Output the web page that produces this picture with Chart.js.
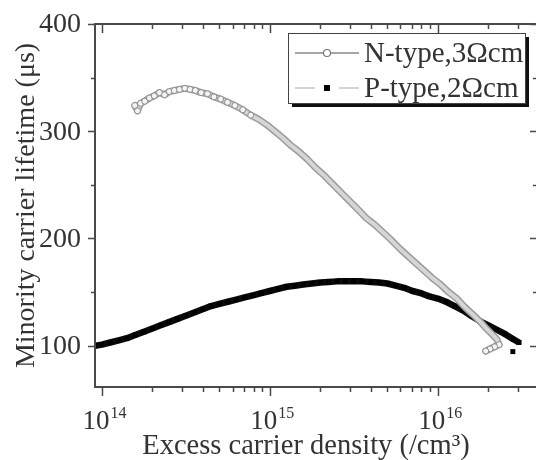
<!DOCTYPE html>
<html>
<head>
<meta charset="utf-8">
<script src="https://cdn.jsdelivr.net/npm/chart.js@4/dist/chart.umd.min.js"></script>
<style>
html, body { margin: 0; padding: 0; background: #fff; overflow: hidden; }
#wrap { width: 542px; height: 460px; }
</style>
</head>
<body>
<div id="wrap"><canvas id="lifetime" width="542" height="460"></canvas></div>
<script>
// excess carrier density (/cm3) and lifetime (us)
const nDensity = [1.57e14, 1.63e14, 1.70e14, 1.80e14, 1.92e14, 2.05e14, 2.20e14, 2.36e14, 2.52e14, 2.70e14,
    2.90e14, 3.12e14, 3.35e14, 3.60e14, 3.90e14, 4.25e14, 4.65e14, 5.10e14, 5.60e14, 6.20e14,
    6.90e14, 7.70e14, 8.60e14, 9.60e14,
    1.07e15, 1.19e15, 1.33e15, 1.49e15, 1.67e15, 1.87e15, 2.10e15, 2.36e15, 2.65e15, 2.98e15,
    3.35e15, 3.75e15, 4.20e15, 4.70e15, 5.25e15, 5.90e15, 6.60e15, 7.40e15, 8.30e15, 9.30e15,
    1.04e16, 1.16e16, 1.30e16, 1.45e16, 1.62e16, 1.80e16, 1.95e16, 2.10e16, 2.25e16, 2.32e16,
    2.18e16, 2.05e16, 1.93e16];
const nLifetime = [324, 319, 326, 328, 331, 333, 336, 334, 337, 338,
    339, 340, 339, 338, 336, 335, 332, 330, 327, 324,
    320, 315, 311, 306,
    300, 294, 287, 281, 274, 266, 259, 251, 243, 235,
    227, 219, 213, 206, 199, 191, 184, 177, 170, 163,
    157, 150, 144, 136, 129, 122, 116, 111, 106, 101,
    99, 97, 95];

const pDensity = [9.1e13, 1.0e14, 1.12e14, 1.26e14, 1.41e14, 1.58e14, 1.78e14, 2.0e14, 2.24e14, 2.51e14,
    2.82e14, 3.16e14, 3.55e14, 3.98e14, 4.47e14, 5.01e14, 5.62e14, 6.31e14, 7.08e14, 7.94e14,
    8.91e14, 1.0e15, 1.12e15, 1.26e15, 1.41e15, 1.58e15, 1.78e15, 2.0e15, 2.24e15, 2.51e15,
    2.82e15, 3.16e15, 3.55e15, 3.98e15, 4.47e15, 5.01e15, 5.62e15, 6.31e15, 7.08e15, 7.94e15,
    8.91e15, 1.0e16, 1.12e16, 1.26e16, 1.41e16, 1.58e16, 1.78e16, 2.0e16, 2.24e16, 2.51e16,
    2.82e16, 3.05e16, 2.9e16, 2.8e16];
const pLifetime = [100, 101, 103, 105, 107, 110, 113, 116, 119, 122,
    125, 128, 131, 134, 137, 139, 141, 143, 145, 147,
    149, 151, 153, 155, 156, 157, 158, 159, 159.5, 160,
    160, 160, 160, 159.5, 159, 158, 156, 154, 151, 149,
    146, 144, 141, 137, 133, 128, 123, 119, 115, 111,
    106, 103, null, 94.5];

const seriesLabels = ['N-type,3\u03A9cm', 'P-type,2\u03A9cm'];
const yTickValues = [100, 200, 300, 400];
const yMinorValues = [150, 250, 350];
const xMajorValues = [1e14, 1e15, 1e16];
const xMinorValues = [2e14, 3e14, 4e14, 5e14, 6e14, 7e14, 8e14, 9e14,
    2e15, 3e15, 4e15, 5e15, 6e15, 7e15, 8e15, 9e15, 2e16, 3e16];

const serif = "'Liberation Serif', 'Times New Roman', serif";
const ink = '#333';

function toPoints(xs, ys) {
    return xs.map(function(v, i) { return {x: v, y: ys[i]}; });
}

// open markers only where the measured points are still apart
function nMarkerRadius(c) {
    const i = c.dataIndex;
    return (i < 22 || i >= 53) ? 3 : 0;
}

// frame, mirrored ticks, tick labels, x title
const framePlugin = {
    id: 'frame',
    afterDatasetsDraw(chart) {
        const ctx = chart.ctx, a = chart.chartArea;
        const x = chart.scales.x, y = chart.scales.y;
        ctx.save();
        ctx.strokeStyle = '#4a4a4a';
        ctx.lineWidth = 2;
        ctx.strokeRect(a.left, a.top, a.right - a.left, a.bottom - a.top);

        ctx.lineWidth = 1.5;
        ctx.beginPath();
        function xt(v, len) {
            const px = Math.round(x.getPixelForValue(v)) + 0.5;
            ctx.moveTo(px, a.bottom); ctx.lineTo(px, a.bottom + len);
            ctx.moveTo(px, a.top); ctx.lineTo(px, a.top + len);
        }
        function yt(v, len) {
            const py = Math.round(y.getPixelForValue(v)) + 0.5;
            ctx.moveTo(a.left, py); ctx.lineTo(a.left - len, py);
            ctx.moveTo(a.right, py); ctx.lineTo(a.right - len, py);
        }
        xMajorValues.forEach(function(v) { xt(v, 9); });
        xMinorValues.forEach(function(v) { xt(v, 5); });
        yTickValues.forEach(function(v) { yt(v, 7); });
        yMinorValues.forEach(function(v) { yt(v, 4); });
        ctx.stroke();

        ctx.fillStyle = ink;
        ctx.font = '28px ' + serif;
        ctx.textAlign = 'right';
        ctx.textBaseline = 'middle';
        yTickValues.forEach(function(v) {
            ctx.fillText(String(v), a.left - 14, y.getPixelForValue(v) + 1);
        });

        // 10^n labels
        ctx.textBaseline = 'alphabetic';
        ctx.textAlign = 'left';
        xMajorValues.forEach(function(v) {
            const exp = String(Math.round(Math.log10(v)));
            ctx.font = '27px ' + serif;
            const w1 = ctx.measureText('10').width;
            ctx.font = '16px ' + serif;
            const w2 = ctx.measureText(exp).width;
            const left = x.getPixelForValue(v) - (w1 + w2) / 2 + 2;
            ctx.font = '27px ' + serif;
            ctx.fillText('10', left, a.bottom + 42);
            ctx.font = '16px ' + serif;
            ctx.fillText(exp, left + w1 + 1, a.bottom + 31);
        });

        ctx.font = '28.5px ' + serif;
        ctx.textAlign = 'center';
        ctx.fillText('Excess carrier density (/cm\u00B3)', a.left + 211, a.bottom + 67);
        ctx.restore();
    },
    afterDraw(chart) {
        const ctx = chart.ctx, a = chart.chartArea;
        const lw = 237, lh = 70;
        const lx = a.right - 249, ly = a.top + 9;
        ctx.save();
        ctx.fillStyle = '#111';
        ctx.fillRect(lx + 4, ly + 4, lw, lh);
        ctx.fillStyle = '#fff';
        ctx.fillRect(lx, ly, lw, lh);
        ctx.strokeStyle = '#444';
        ctx.lineWidth = 1;
        ctx.strokeRect(lx + 0.5, ly + 0.5, lw, lh);

        const r1 = ly + 20, r2 = ly + 55;
        // N-type sample
        ctx.strokeStyle = '#888';
        ctx.lineWidth = 1.5;
        ctx.beginPath();
        ctx.moveTo(lx + 7, r1); ctx.lineTo(lx + 71, r1);
        ctx.stroke();
        ctx.beginPath();
        ctx.arc(lx + 39, r1, 3.5, 0, Math.PI * 2);
        ctx.fillStyle = '#fff';
        ctx.fill();
        ctx.strokeStyle = '#777';
        ctx.lineWidth = 1.2;
        ctx.stroke();
        // P-type sample
        ctx.strokeStyle = '#aaa';
        ctx.lineWidth = 1.2;
        ctx.beginPath();
        ctx.moveTo(lx + 7, r2); ctx.lineTo(lx + 27, r2);
        ctx.moveTo(lx + 51, r2); ctx.lineTo(lx + 71, r2);
        ctx.stroke();
        ctx.fillStyle = '#000';
        ctx.fillRect(lx + 36, r2 - 3, 6, 6);

        ctx.fillStyle = ink;
        ctx.font = '29px ' + serif;
        ctx.textAlign = 'left';
        ctx.textBaseline = 'middle';
        ctx.fillText(seriesLabels[0], lx + 76, r1 + 1);
        ctx.fillText(seriesLabels[1], lx + 76, r2 + 1);
        ctx.restore();
    }
};

const ctx = document.getElementById('lifetime').getContext('2d');
new Chart(ctx, {
    type: 'line',
    data: {
        datasets: [{
            label: seriesLabels[0],
            data: toPoints(nDensity, nLifetime),
            borderColor: '#d6d6d6',
            borderWidth: 4,
            borderJoinStyle: 'round',
            pointStyle: 'circle',
            pointRadius: nMarkerRadius,
            pointBackgroundColor: '#f4f4f4',
            pointBorderColor: '#8c8c8c',
            pointBorderWidth: 1,
            tension: 0
        }, {
            // edge of the dense N-type band
            label: 'N-type edge',
            data: toPoints(nDensity, nLifetime),
            borderColor: '#9c9c9c',
            borderWidth: 7,
            borderJoinStyle: 'round',
            borderCapStyle: 'round',
            pointRadius: 0,
            tension: 0
        }, {
            label: seriesLabels[1],
            data: toPoints(pDensity, pLifetime),
            borderColor: '#0a0a0a',
            borderWidth: 6.5,
            borderJoinStyle: 'round',
            pointStyle: 'rect',
            pointRadius: 3.5,
            pointBackgroundColor: '#000',
            pointBorderWidth: 0,
            spanGaps: false,
            tension: 0
        }]
    },
    options: {
        responsive: false,
        animation: false,
        layout: {padding: {top: 24, right: 2, left: 0, bottom: 0}},
        plugins: {legend: {display: false}, tooltip: {enabled: false}},
        scales: {
            x: {
                type: 'logarithmic',
                min: 9.1e13,
                max: 3.9e16,
                grid: {display: false},
                border: {display: false},
                ticks: {display: false},
                afterFit: function(s) { s.height = 73; }
            },
            y: {
                min: 61.5,
                max: 400,
                grid: {display: false},
                border: {display: false},
                ticks: {display: false},
                title: {display: true, text: 'Minority carrier lifetime (\u03BCs)',
                    font: {family: serif, size: 28}, color: ink, padding: {top: 10, bottom: 0}},
                afterFit: function(s) { s.width = 95; }
            }
        }
    },
    plugins: [framePlugin]
});
</script>
</body>
</html>
